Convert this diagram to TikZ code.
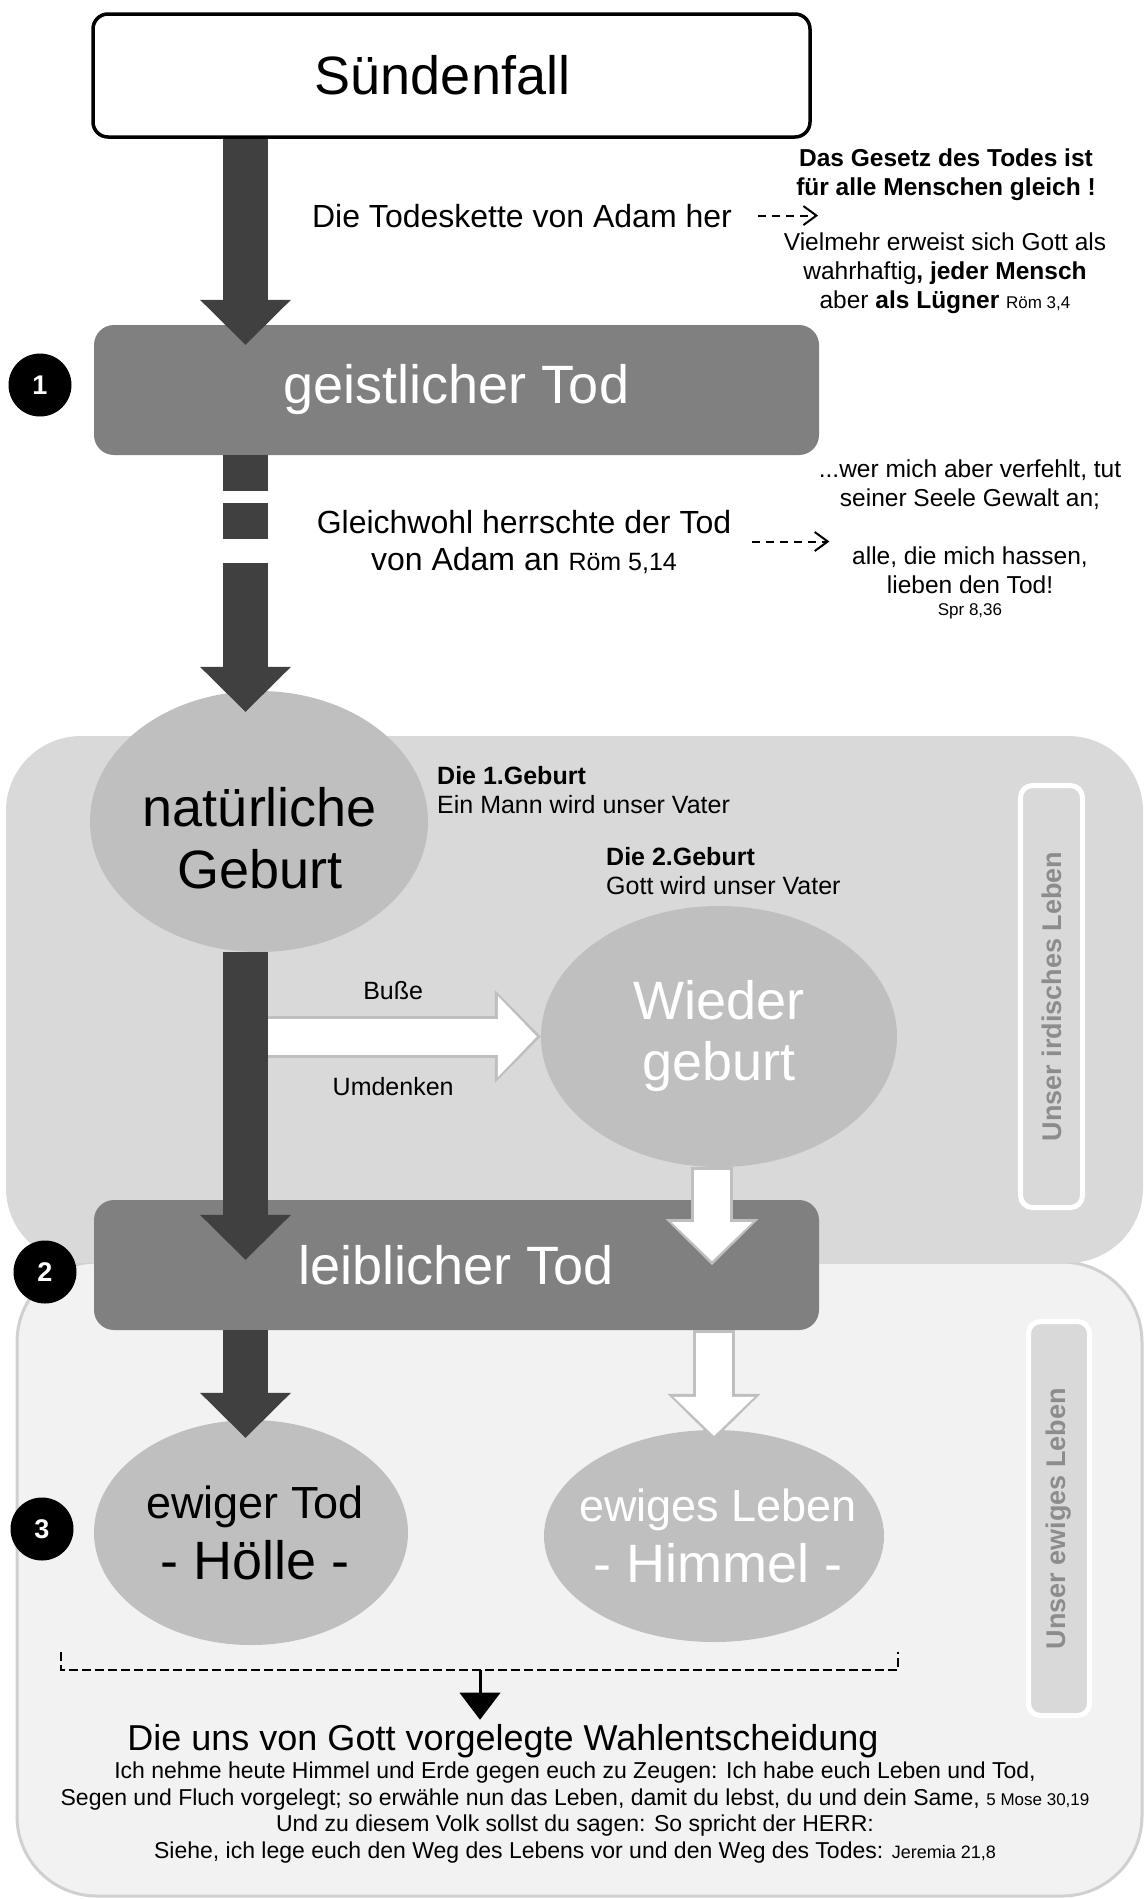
\documentclass[tikz,border=0pt]{standalone}
\usepackage{fontspec}
\setmainfont{Liberation Sans}
\usepackage{tikz}
\usetikzlibrary{arrows.meta,positioning,calc,shapes.geometric}
\definecolor{dunkel}{HTML}{404040}
\definecolor{mittel}{HTML}{808080}
\definecolor{hell}{HTML}{BFBFBF}
\definecolor{irdgrau}{HTML}{D9D9D9}
\definecolor{ewiggrau}{HTML}{F2F2F2}
\definecolor{rahmen}{HTML}{D0D0D0}
\definecolor{seitengrau}{HTML}{8C8C8C}
\newcommand{\stelle}[2][17]{{\fontsize{#1}{20}\selectfont #2}}

\begin{document}
\begin{tikzpicture}[x=1pt,y=-1pt,
  gross/.style={inner sep=0pt,align=center,font=\fontsize{54}{62}\selectfont},
  stufe/.style={rectangle,rounded corners=20pt,fill=mittel,text=white,minimum width=725pt,minimum height=130pt,gross},
  oval/.style={ellipse,fill=hell,inner sep=0pt},
  txt/.style={inner sep=0pt,align=center,font=\fontsize{24.5}{29}\selectfont},
  lbl/.style={inner sep=0pt,outer sep=0pt,font=\fontsize{25}{29}\selectfont},
  nummer/.style={circle,fill=black,text=white,minimum size=63pt,inner sep=0pt,font=\fontsize{27}{30}\selectfont\bfseries},
  seite/.style={rectangle,rounded corners=12pt,draw=white,line width=5pt,fill=irdgrau,text=seitengrau,rotate=90,font=\fontsize{27}{30}\selectfont\bfseries},
  darr/.style={draw=dunkel,line width=45pt,-{Triangle[length=45pt,width=91pt,line width=0pt]}},
  wout/.style={draw=hell,line width=42pt,-{Triangle[length=46pt,width=93pt,line width=0pt]}},
  win/.style={draw=white,line width=36pt,shorten <=3pt,shorten >=4pt,-{Triangle[length=39pt,width=81pt,line width=0pt]}},
  hint/.style={line width=2pt,dash pattern=on 8pt off 6pt,-{Straight Barb[length=13pt,width=19pt]}}]
\useasboundingbox (0,0) rectangle (1145,1899);

% Lebensbereiche
\draw[draw=rahmen,fill=ewiggrau,line width=3pt,rounded corners=80pt] (17,1262) rectangle (1142,1896);
\fill[irdgrau,rounded corners=75pt] (6,736) rectangle (1143,1263);
\node[seite,minimum width=422pt,minimum height=62pt] (irdisch) at (1051.5,996.5) {Unser irdisches Leben};
\node[seite,minimum width=394pt,minimum height=61pt] (ewiglbl) at (1059,1518.5) {Unser ewiges Leben};

% Stufen
\node[draw=black,line width=3.5pt,rounded corners=15pt,fill=white,minimum width=717pt,minimum height=123pt,gross] (fall) at (451.5,75.5) {\hspace*{-18pt}Sündenfall};
\node[stufe] (geist) at (456.5,390) {geistlicher Tod};
\node[stufe] (leib) at (456.5,1265) {leiblicher Tod};

\node[oval,minimum width=338pt,minimum height=261pt] (natgeb) at (259,821.5) {};
\node[oval,minimum width=356pt,minimum height=261pt] (wieder) at (719,1036.5) {};
\node[oval,minimum width=314pt,minimum height=225pt] (ewtod) at (251,1532.5) {};
\node[oval,minimum width=340pt,minimum height=212pt] (ewleb) at (714,1536) {};
\node[gross] (natgebtxt) at ($(natgeb)+(1,17)$) {natürliche\\Geburt};
\node[gross,text=white,font=\fontsize{54}{61}\selectfont] (wiedertxt) at (wieder) {Wieder\\geburt};
\node[gross,font=\fontsize{45}{61}\selectfont] (ewtodtxt) at ($(ewtod)+(4,0)$) {ewiger Tod\\{\fontsize{54}{61}\selectfont - Hölle -}};
\node[gross,text=white,font=\fontsize{45}{61}\selectfont] (ewlebtxt) at ($(ewleb)+(4,0)$) {ewiges Leben\\{\fontsize{54}{61}\selectfont - Himmel -}};

% weisse Pfeile
\coordinate (spine) at (245.5,0);
\draw[wout] (wieder.west -| spine) -- (wieder.west);
\draw[win] (wieder.west -| spine) -- node[lbl,above=37pt] (busse) {Buße} node[lbl,below=41pt] (umdenken) {Umdenken} (wieder.west);
\draw[wout] ($(wieder.south)+(-7,0)$) -- ($(leib.center -| wieder.south)+(-7,0)$);
\draw[win] ($(wieder.south)+(-7,0)$) -- ($(leib.center -| wieder.south)+(-7,0)$);
\draw[wout] (leib.south -| ewleb) -- ($(ewleb.north)+(0,10)$);
\draw[win] (leib.south -| ewleb) -- ($(ewleb.north)+(0,10)$);

% Todeskette
\draw[darr] (fall.south -| spine) -- ($(geist.north -| spine)+(0,20)$);
\draw[darr,dash pattern=on 36pt off 12pt on 36pt off 24pt on 500pt] (geist.south -| spine) -- ($(natgeb.north -| spine)+(0,21)$);
\draw[darr] (natgeb.south -| spine) -- ($(leib.north -| spine)+(0,60)$);
\draw[darr] (leib.south -| spine) -- ($(ewtod.north -| spine)+(0,18)$);

\foreach \n/\x/\y in {1/40/385,2/45/1272,3/42/1529}
  \node[nummer] (n\n) at (\x,\y) {\n};

% Texte
\node[txt,font=\fontsize{32}{37}\selectfont,anchor=base] (kette) at (522,227) {Die Todeskette von Adam her};
\draw[hint] ([xshift=26pt]kette.east) -- ([xshift=86pt]kette.east);
\node[txt,font=\fontsize{24.5}{28.5}\selectfont\bfseries] (gesetz) at (946,174.6) {Das Gesetz des Todes ist\\für alle Menschen gleich !};
\node[txt] (vielmehr) at (945,273.6) {Vielmehr erweist sich Gott als\\wahrhaftig\textbf{, jeder Mensch}\\aber \textbf{als Lügner} \stelle{Röm 3,4}};
\node[txt,font=\fontsize{32}{37}\selectfont] (gleich) at (524,541.5) {Gleichwohl herrschte der Tod\\von Adam an \stelle[25]{Röm 5,14}};
\draw[hint] ([xshift=21pt]gleich.east) -- ([xshift=98pt]gleich.east);
\node[txt] (seele) at (970,539) {...wer mich aber verfehlt, tut\\seiner Seele Gewalt an;\\[29pt]alle, die mich hassen,\\lieben den Tod!\\[-7pt]\stelle{Spr 8,36}};
\node[txt,align=left,anchor=west,font=\fontsize{25}{29}\selectfont] (geburt1) at (437,790.4) {\textbf{Die 1.Geburt}\\Ein Mann wird unser Vater};
\node[txt,align=left,anchor=west,font=\fontsize{25}{29}\selectfont] (geburt2) at (606,871.4) {\textbf{Die 2.Geburt}\\Gott wird unser Vater};

% Wahl
\coordinate (kl) at (61,1652);
\coordinate (kr) at (898,1652);
\draw[line width=2.5pt,dash pattern=on 9pt off 4pt] (kl) -- ++(0,18) -| (kr);
\node[txt,font=\fontsize{36}{40}\selectfont,anchor=base] (wahl) at (503,1750) {Die uns von Gott vorgelegte Wahlentscheidung};
\coordinate (km) at (480,1670);
\draw[line width=3pt,-{Triangle[length=27pt,width=41pt,line width=0pt]},shorten >=4pt] (km) -- (km |- wahl.north);
\node[txt,font=\fontsize{23}{26.7}\selectfont] (vers) at (575,1812.5) {Ich nehme heute Himmel und Erde gegen euch zu Zeugen: Ich habe euch Leben und Tod,\\Segen und Fluch vorgelegt; so erwähle nun das Leben, damit du lebst, du und dein Same, \stelle{5 Mose 30,19}\\Und zu diesem Volk sollst du sagen: So spricht der HERR:\\Siehe, ich lege euch den Weg des Lebens vor und den Weg des Todes: \stelle[18]{Jeremia 21,8}};
\end{tikzpicture}
\end{document}
